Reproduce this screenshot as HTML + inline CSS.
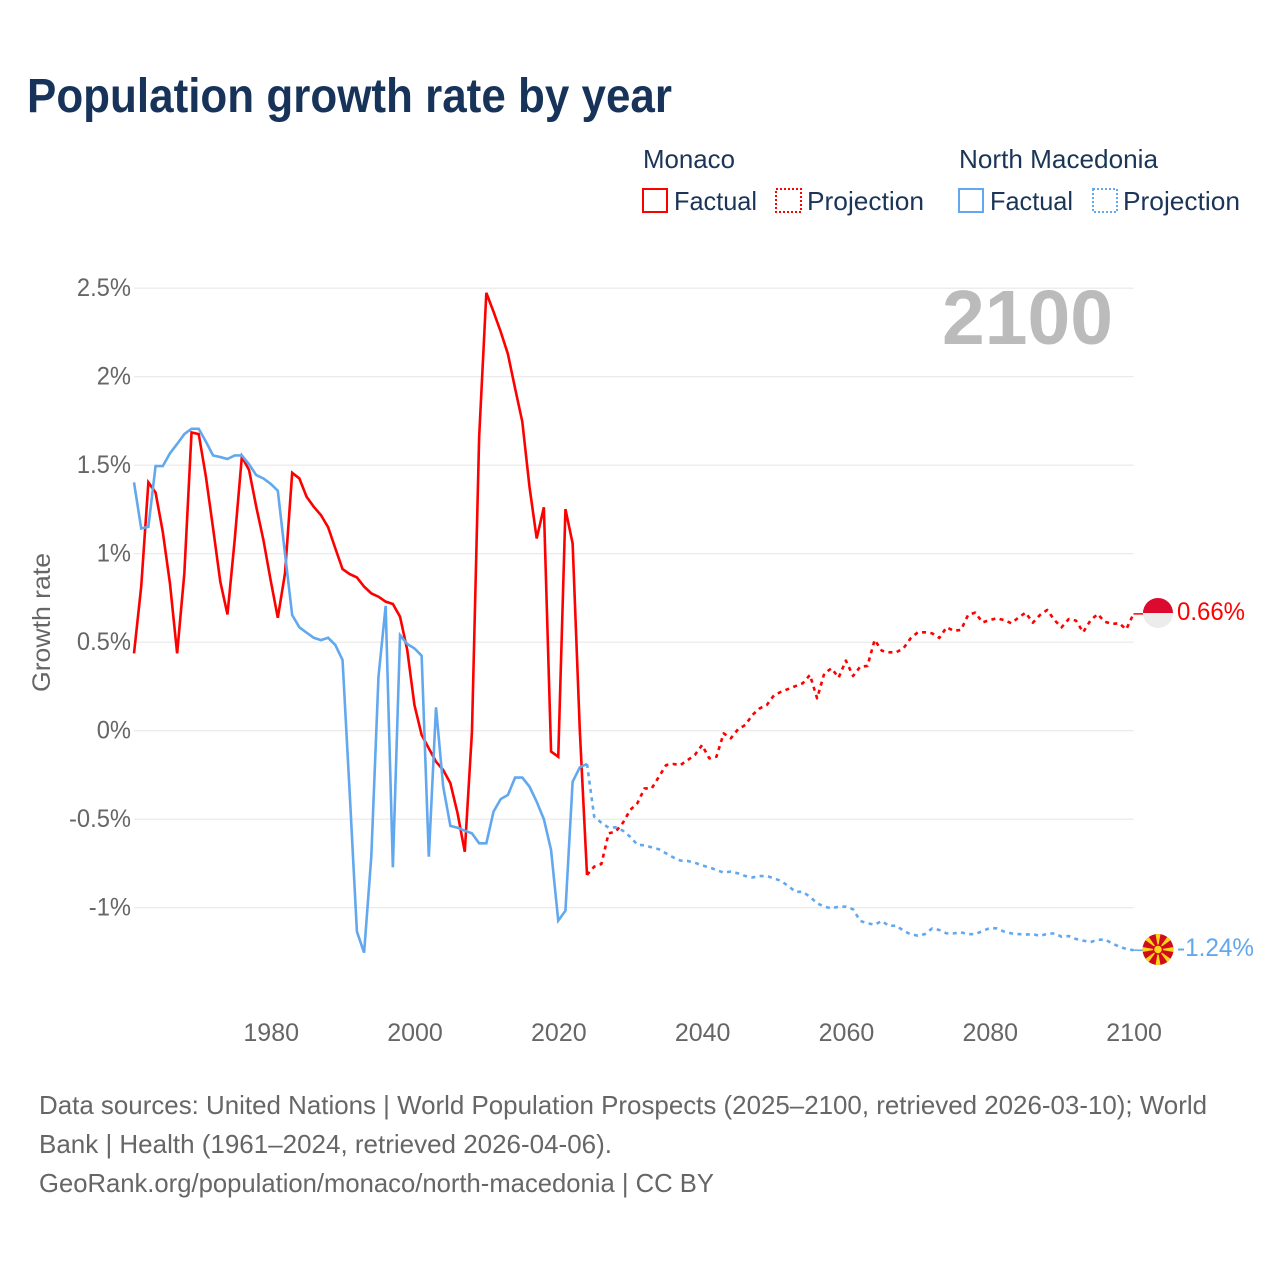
<!DOCTYPE html>
<html lang="en">
<head>
<meta charset="utf-8">
<title>Population growth rate by year</title>
<style>
html,body{margin:0;padding:0;background:#fff;width:1280px;height:1280px;overflow:hidden}
svg{display:block}
text{font-family:"Liberation Sans",sans-serif}
</style>
</head>
<body>
<svg id="chart" xmlns="http://www.w3.org/2000/svg" width="1280" height="1280" viewBox="0 0 1280 1280">
  <defs>
    <clipPath id="flag-clip-mc"><circle cx="1158" cy="613" r="15"/></clipPath>
    <clipPath id="flag-clip-mk"><circle cx="1158" cy="949.5" r="15.5"/></clipPath>
  </defs>
  <rect x="0" y="0" width="1280" height="1280" fill="#fff"/>

  <text x="27" y="112" font-size="48" font-weight="700" fill="#17335a" textLength="645" lengthAdjust="spacingAndGlyphs">Population growth rate by year</text>

  <g font-size="26" fill="#1a3557">
    <text x="643" y="168" textLength="92" lengthAdjust="spacingAndGlyphs">Monaco</text>
    <text x="959" y="168" textLength="199" lengthAdjust="spacingAndGlyphs">North Macedonia</text>
    <rect x="643" y="189" width="24" height="23" fill="none" stroke="#ff0000" stroke-width="2"/>
    <text x="674" y="210" textLength="83" lengthAdjust="spacingAndGlyphs">Factual</text>
    <rect x="776" y="189" width="25" height="23" fill="none" stroke="#ff0000" stroke-width="2" stroke-dasharray="2 2"/>
    <text x="807" y="210" textLength="117" lengthAdjust="spacingAndGlyphs">Projection</text>
    <rect x="959" y="189" width="24" height="23" fill="none" stroke="#62a8ee" stroke-width="2"/>
    <text x="990" y="210" textLength="83" lengthAdjust="spacingAndGlyphs">Factual</text>
    <rect x="1093" y="189" width="24" height="23" fill="none" stroke="#62a8ee" stroke-width="2" stroke-dasharray="2 2"/>
    <text x="1123" y="210" textLength="117" lengthAdjust="spacingAndGlyphs">Projection</text>
  </g>

  <g id="grid"></g>
  <g id="y-ticks"></g>
  <g id="x-ticks"></g>

  <text x="0" y="0" transform="translate(50,622.5) rotate(-90)" text-anchor="middle" font-size="25" fill="#666" textLength="139" lengthAdjust="spacingAndGlyphs">Growth rate</text>

  <text x="1113" y="344" text-anchor="end" font-size="77" font-weight="700" fill="#bbbbbb" textLength="171" lengthAdjust="spacingAndGlyphs">2100</text>

  <g id="series"></g>

  <g clip-path="url(#flag-clip-mc)">
    <rect x="1143" y="598" width="30" height="15" fill="#dc0a2e"/>
    <rect x="1143" y="613" width="30" height="15" fill="#ececec"/>
  </g>
  <text x="1177" y="620" font-size="25" fill="#ff0000" textLength="68" lengthAdjust="spacingAndGlyphs">0.66%</text>

  <g clip-path="url(#flag-clip-mk)">
    <rect x="1142" y="934" width="32" height="32" fill="#d20a1e"/>
    <g id="mk-rays" fill="#f9d616" transform="translate(1158,949.5)">
      <polygon points="-0.6,-5 0.6,-5 2.6,-16 -2.6,-16"/>
      <polygon points="-0.6,-5 0.6,-5 2.4,-16 -2.4,-16" transform="rotate(45)"/>
      <polygon points="-0.6,-5 0.6,-5 2.6,-16 -2.6,-16" transform="rotate(90)"/>
      <polygon points="-0.6,-5 0.6,-5 2.4,-16 -2.4,-16" transform="rotate(135)"/>
      <polygon points="-0.6,-5 0.6,-5 2.6,-16 -2.6,-16" transform="rotate(180)"/>
      <polygon points="-0.6,-5 0.6,-5 2.4,-16 -2.4,-16" transform="rotate(225)"/>
      <polygon points="-0.6,-5 0.6,-5 2.6,-16 -2.6,-16" transform="rotate(270)"/>
      <polygon points="-0.6,-5 0.6,-5 2.4,-16 -2.4,-16" transform="rotate(315)"/>
      <circle cx="0" cy="0" r="3.8"/>
    </g>
  </g>
  <text x="1177" y="956" font-size="25" fill="#62a8ee" textLength="77" lengthAdjust="spacingAndGlyphs">-1.24%</text>

  <g font-size="26" fill="#666">
    <text x="39" y="1114" textLength="1168" lengthAdjust="spacingAndGlyphs">Data sources: United Nations | World Population Prospects (2025–2100, retrieved 2026-03-10); World</text>
    <text x="39" y="1153" textLength="573" lengthAdjust="spacingAndGlyphs">Bank | Health (1961–2024, retrieved 2026-04-06).</text>
    <text x="39" y="1192" textLength="675" lengthAdjust="spacingAndGlyphs">GeoRank.org/population/monaco/north-macedonia | CC BY</text>
  </g>
</svg>

<script>
const yTickValues = [2.5, 2, 1.5, 1, 0.5, 0, -0.5, -1];
const yTickLabels = ["2.5%", "2%", "1.5%", "1%", "0.5%", "0%", "-0.5%", "-1%"];
const xTickYears = [1980, 2000, 2020, 2040, 2060, 2080, 2100];
const xTickLabels = ["1980", "2000", "2020", "2040", "2060", "2080", "2100"];

const factualStartYear = 1961;
const projectionStartYear = 2024;

// Monaco, 1961–2024
const monacoFactual = [
  0.437, 0.813, 1.403, 1.346, 1.124, 0.832, 0.437, 0.889, 1.685, 1.676,
  1.435, 1.143, 0.842, 0.657, 1.077, 1.548, 1.473, 1.265, 1.077, 0.851,
  0.638, 0.889, 1.457, 1.425, 1.322, 1.265, 1.218, 1.149, 1.03, 0.913,
  0.885, 0.866, 0.814, 0.776, 0.757, 0.729, 0.716, 0.644, 0.456, 0.145,
  -0.024, -0.1, -0.175, -0.222, -0.297, -0.467, -0.684, -0.006, 1.66, 2.474,
  2.367, 2.254, 2.128, 1.934, 1.746, 1.378, 1.086, 1.262, -0.118, -0.147,
  1.252, 1.058, 0.0, -0.815
];

// North Macedonia, 1961–2024
const macedoniaFactual = [
  1.403, 1.143, 1.152, 1.495, 1.495, 1.567, 1.62, 1.676, 1.706, 1.706,
  1.633, 1.555, 1.546, 1.535, 1.555, 1.555, 1.505, 1.444, 1.425, 1.395,
  1.356, 1.0, 0.653, 0.584, 0.554, 0.525, 0.512, 0.525, 0.484, 0.4,
  -0.354, -1.135, -1.254, -0.712, 0.305, 0.705, -0.772, 0.54, 0.49, 0.465,
  0.424, -0.712, 0.132, -0.316, -0.538, -0.548, -0.565, -0.58, -0.636, -0.636,
  -0.457, -0.386, -0.363, -0.265, -0.265, -0.316, -0.401, -0.5, -0.674, -1.073,
  -1.017, -0.288, -0.207, -0.188
];

// Monaco, 2024–2100
const monacoProjection = [
  -0.815, -0.768, -0.753, -0.58, -0.57, -0.52, -0.448, -0.41, -0.326, -0.326,
  -0.26, -0.194, -0.188, -0.194, -0.166, -0.137, -0.081, -0.156, -0.147, -0.015,
  -0.043, 0.008, 0.032, 0.089, 0.126, 0.145, 0.2, 0.22, 0.236, 0.252,
  0.268, 0.315, 0.183, 0.324, 0.352, 0.3, 0.396, 0.309, 0.362, 0.366,
  0.513, 0.452, 0.443, 0.443, 0.465, 0.522, 0.556, 0.556, 0.55, 0.524,
  0.584, 0.565, 0.569, 0.654, 0.667, 0.612, 0.625, 0.635, 0.625, 0.607,
  0.639, 0.667, 0.61, 0.654, 0.682, 0.625, 0.584, 0.631, 0.622, 0.556,
  0.622, 0.659, 0.616, 0.603, 0.607, 0.573, 0.66
];

// North Macedonia, 2024–2100
const macedoniaProjection = [
  -0.188, -0.486, -0.52, -0.548, -0.546, -0.565, -0.599, -0.644, -0.648, -0.659,
  -0.67, -0.693, -0.716, -0.734, -0.736, -0.746, -0.761, -0.772, -0.787, -0.802,
  -0.796, -0.806, -0.821, -0.829, -0.821, -0.821, -0.834, -0.849, -0.878, -0.91,
  -0.91, -0.938, -0.975, -0.994, -1.004, -0.994, -0.994, -1.009, -1.075, -1.088,
  -1.096, -1.075, -1.103, -1.101, -1.13, -1.15, -1.158, -1.149, -1.117, -1.126,
  -1.145, -1.145, -1.139, -1.15, -1.149, -1.132, -1.115, -1.117, -1.135, -1.145,
  -1.149, -1.152, -1.149, -1.16, -1.147, -1.145, -1.164, -1.16, -1.177, -1.186,
  -1.194, -1.182, -1.179, -1.201, -1.22, -1.233, -1.24
];

const SVG_NS = "http://www.w3.org/2000/svg";
const RED = "#ff0000";
const BLUE = "#62a8ee";
const PLOT_LEFT = 134;
const PLOT_RIGHT = 1133.5;

function xScale(year) {
  return PLOT_LEFT + (year - 1961) * (PLOT_RIGHT - PLOT_LEFT) / 139;
}
function yScale(value) {
  return 730.7 - value * 177;
}
function svgEl(tag, attrs, parent) {
  const el = document.createElementNS(SVG_NS, tag);
  for (const key in attrs) el.setAttribute(key, attrs[key]);
  parent.appendChild(el);
  return el;
}
function linePath(values, startYear) {
  return values.map(function (v, i) {
    return (i ? "L" : "M") + xScale(startYear + i).toFixed(2) + " " + yScale(v).toFixed(2);
  }).join("");
}

const gridLayer = document.getElementById("grid");
const yTickLayer = document.getElementById("y-ticks");
const xTickLayer = document.getElementById("x-ticks");
const seriesLayer = document.getElementById("series");

yTickValues.forEach(function (value, i) {
  const rule = svgEl("line", {x1: PLOT_LEFT, x2: PLOT_RIGHT, y1: yScale(value), y2: yScale(value), stroke: "#e8e8e8", "stroke-width": 1.2}, gridLayer);
  
  
  const label = svgEl("text", {x: 131, y: yScale(value) + 8, "text-anchor": "end", "font-size": 25, fill: "#666"}, yTickLayer);
  label.textContent = yTickLabels[i];
  
  
  label.setAttribute("textLength", (label.getComputedTextLength() * 0.95).toFixed(1));
  label.setAttribute("lengthAdjust", "spacingAndGlyphs");
});

xTickYears.forEach(function (year, i) {
  const label = svgEl("text", {x: xScale(year) + 0.6, y: 1041, "text-anchor": "middle", "font-size": 25, fill: "#666"}, xTickLayer);
  label.textContent = xTickLabels[i];
  
  
});

const redProjectionLine = svgEl("path", {d: linePath(monacoProjection, projectionStartYear), fill: "none", stroke: RED, "stroke-width": 2.6, "stroke-dasharray": "4 4.4", "stroke-linejoin": "round"}, seriesLayer);



const blueProjectionLine = svgEl("path", {d: linePath(macedoniaProjection, projectionStartYear), fill: "none", stroke: BLUE, "stroke-width": 2.6, "stroke-dasharray": "4 4.4", "stroke-linejoin": "round"}, seriesLayer);



const redFactualLine = svgEl("path", {d: linePath(monacoFactual, factualStartYear), fill: "none", stroke: RED, "stroke-width": 2.6, "stroke-linejoin": "miter"}, seriesLayer);



const blueFactualLine = svgEl("path", {d: linePath(macedoniaFactual, factualStartYear), fill: "none", stroke: BLUE, "stroke-width": 2.6, "stroke-linejoin": "miter"}, seriesLayer);



const redEndValue = monacoProjection[monacoProjection.length - 1];
const redConnector = svgEl("line", {x1: PLOT_RIGHT, x2: 1143, y1: yScale(redEndValue), y2: yScale(redEndValue), stroke: RED, "stroke-width": 1.5}, seriesLayer);



const blueEndValue = macedoniaProjection[macedoniaProjection.length - 1];
const blueConnector = svgEl("line", {x1: PLOT_RIGHT, x2: 1143, y1: yScale(blueEndValue), y2: yScale(blueEndValue), stroke: BLUE, "stroke-width": 1.5}, seriesLayer);


</script>
</body>
</html>
